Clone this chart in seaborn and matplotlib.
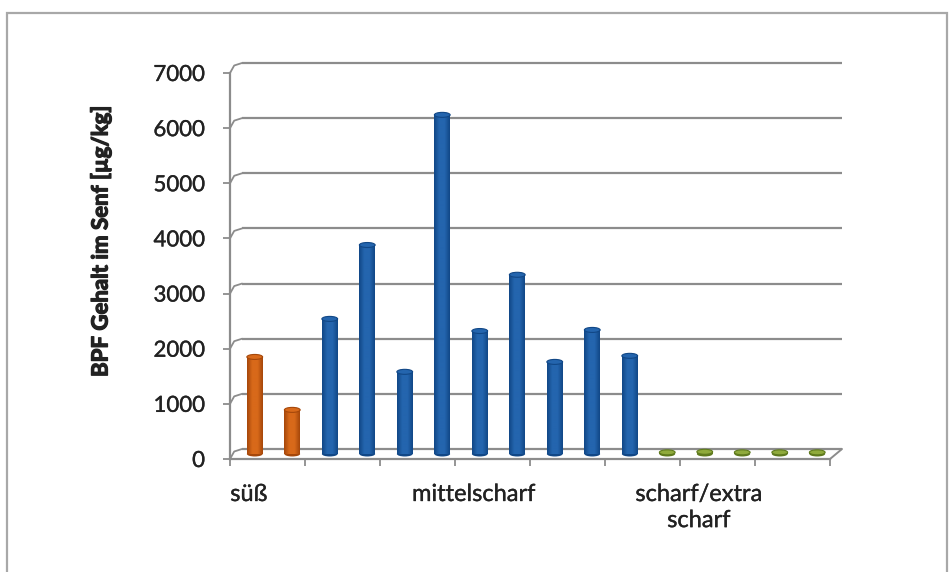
import numpy as np
import pandas as pd
import matplotlib
matplotlib.use("Agg")
import matplotlib.pyplot as plt
import matplotlib.patheffects as pe
from matplotlib.patches import Ellipse, Rectangle
from matplotlib.colors import LinearSegmentedColormap
import seaborn as sns

# BPF content in mustard samples, grouped by spiciness
groups = ["süß"] * 2 + ["mittelscharf"] * 9 + ["scharf/extra scharf"] * 5
values = [1760, 800,
          2450, 3790, 1490, 6150, 2230, 3250, 1670, 2250, 1780,
          30, 40, 30, 30, 30]
category_labels = ["süß", "mittelscharf", "scharf/extra\nscharf"]
category_label_pos = [0, 6, 12]
y_ticks = [0, 1000, 2000, 3000, 4000, 5000, 6000, 7000]
y_label = "BPF Gehalt im Senf [µg/kg]"

palette = {"süß": "#C4570C", "mittelscharf": "#1A58A0", "scharf/extra scharf": "#7E9A30"}
shade = {"süß": ("#A5470A", "#D8691A"),
         "mittelscharf": ("#114786", "#2465AE"),
         "scharf/extra scharf": ("#5F7A1E", "#8FAA3C")}

sns.set_theme(style="white")
plt.rcParams["font.family"] = ["Lato", "DejaVu Sans"]

W, H = 952, 572
fig = plt.figure(figsize=(W / 100, H / 100), dpi=100)

# front plane of the plot area in pixels
L, R, T, B = 230, 830, 73, 459
ax = fig.add_axes([L / W, 1 - B / H, (R - L) / W, (B - T) / H])
n = len(values)
ax.set_xlim(-0.5, n - 0.5)
ax.set_ylim(0, 7000)

# depth offset of the pseudo-3D back wall (data units)
DX = 12 / ((R - L) / n)
DY = 10 / ((B - T) / 7000)

df = pd.DataFrame({"pos": np.arange(n), "value": values, "group": groups})
sns.barplot(data=df, x="pos", y="value", hue="group", palette=palette,
            native_scale=True, dodge=False, width=0.42, saturation=1,
            legend=False, linewidth=0, ax=ax, zorder=5)

grid_c = "#8C8C8C"
# back wall gridlines and their connectors to the front axis
for v in y_ticks:
    ax.plot([-0.5 + DX, n - 0.5 + DX], [v + DY, v + DY], color=grid_c, lw=1.6,
            clip_on=False, zorder=1, solid_capstyle="butt")
    ax.plot([-0.5, -0.5 + DX * 0.35, -0.5 + DX], [v, v + DY * 0.75, v + DY],
            color=grid_c, lw=1.3, clip_on=False, zorder=1)
# right edge of the floor
ax.plot([n - 0.5, n - 0.5 + DX], [0, DY], color=grid_c, lw=1.4, clip_on=False, zorder=1)

# turn bars into shaded cylinders standing in the middle of the floor depth
cap_h = 5 / ((B - T) / 7000)
bars = list(ax.patches)
for p, g in zip(bars, groups):
    p.set_x(p.get_x() + DX / 2)
    p.set_y(DY / 2)
    x0 = p.get_x()
    w = p.get_width()
    top = p.get_y() + p.get_height()
    cmap = LinearSegmentedColormap.from_list("cyl", [shade[g][0], shade[g][1], shade[g][1], shade[g][0]])
    grad = np.linspace(0, 1, 64)[None, :]
    im = ax.imshow(grad, extent=[x0, x0 + w, p.get_y(), top], cmap=cmap,
                   aspect="auto", zorder=6, interpolation="bilinear")
    im.set_clip_path(p)
    ax.add_patch(Ellipse((x0 + w / 2, p.get_y()), w, cap_h, facecolor=shade[g][0],
                         edgecolor="none", zorder=4, clip_on=False))
    ax.add_patch(Ellipse((x0 + w / 2, top), w, cap_h, facecolor=shade[g][1],
                         edgecolor=shade[g][0], lw=0.8, zorder=7, clip_on=False))
ax.set_xlim(-0.5, n - 0.5)
ax.set_ylim(0, 7000)

for side in ["top", "right"]:
    ax.spines[side].set_visible(False)
for side in ["left", "bottom"]:
    ax.spines[side].set_color(grid_c)
    ax.spines[side].set_linewidth(1.6)
    ax.spines[side].set_zorder(2)

text_c = "#222222"
thick = [pe.withStroke(linewidth=0.25, foreground=text_c)]

ax.set_yticks(y_ticks)
ax.set_yticklabels([str(v) for v in y_ticks])
ax.tick_params(axis="y", direction="out", length=5, width=1.3, color=grid_c,
               pad=13, labelsize=16, labelcolor=text_c, left=True)

ax.set_xticks(np.arange(-0.5, n, 2))
ax.set_xticklabels([])
ax.set_xticks(category_label_pos, minor=True)
ax.set_xticklabels(category_labels, minor=True)
ax.tick_params(axis="x", which="major", direction="out", length=5, width=1.3,
               color=grid_c, bottom=True)
ax.tick_params(axis="x", which="minor", length=0, pad=18, labelsize=17,
               labelcolor=text_c)
for t in ax.get_xminorticklabels():
    t.set_linespacing(1.3)
for t in ax.get_xminorticklabels() + ax.get_yticklabels():
    t.set_path_effects(thick)
ax.set_xlabel("")
ax.set_ylabel("")
ax.set_facecolor("none")

fig.text(101 / W, 1 - 241 / H, y_label, rotation=90, ha="center", va="center",
         fontsize=16, fontweight="bold", color=text_c,
         path_effects=[pe.withStroke(linewidth=0.9, foreground=text_c)])

# chart frame
fig.patches.append(Rectangle((7 / W, -0.02), 940 / W, 1 - 13 / H + 0.02,
                             transform=fig.transFigure, fill=False,
                             edgecolor="#A8A8A8", lw=1.6, zorder=0))

fig.savefig("out.png", dpi=100, facecolor="white")
